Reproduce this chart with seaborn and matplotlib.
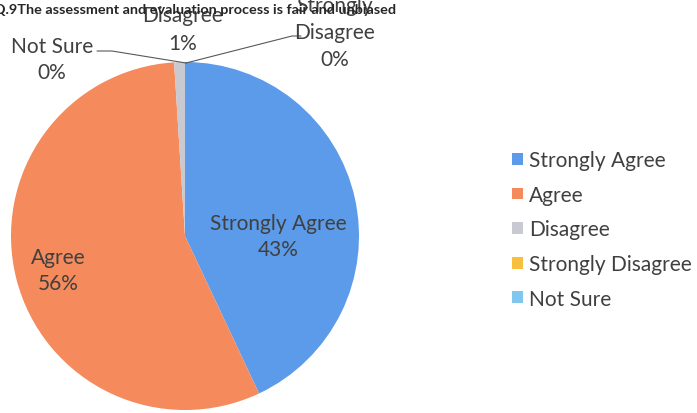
import matplotlib
matplotlib.use("Agg")
import matplotlib.pyplot as plt
import seaborn as sns

categories = ["Strongly Agree", "Agree", "Disagree", "Strongly Disagree", "Not Sure"]
shares = [43, 56, 1, 0, 0]
colors = ["#5B9BEA", "#F58A5C", "#C9C9D2", "#F8BE3E", "#80C6EF"]

sns.set_theme(style="white")
plt.rcParams["font.family"] = ["Lato", "DejaVu Sans"]
txt = "#404040"
fs = 15

fig = plt.figure(figsize=(6.97, 4.14), dpi=100)
cx, cy, r = 185, 237, 174
ax = fig.add_axes([(cx - r) / 697, (414 - cy - r) / 414, 2 * r / 697, 2 * r / 414])
wedges, _ = ax.pie(shares, colors=colors, startangle=90, counterclock=False,
                   radius=1, wedgeprops=dict(linewidth=0))
ax.set_xlim(-1, 1)
ax.set_ylim(-1, 1)
ax.set_aspect("equal")
ax.axis("off")

def px(x, y):
    return (x - cx) / r, (cy - y) / r

def label(x, y, s, ls=1.35):
    ax.text(*px(x, y), s, ha="center", va="center", fontsize=fs, color=txt,
            linespacing=ls, clip_on=False)

# in-slice labels
label(278, 237, f"{categories[0]}\n{shares[0]}%")
label(58, 271, f"{categories[1]}\n{shares[1]}%")

# outside labels
label(183, 30, f"{categories[2]}\n{shares[2]}%", ls=1.55)
label(335, 33, f"Strongly\n{categories[2]}\n{shares[3]}%", ls=1.45)
label(52, 60, f"{categories[4]}\n{shares[4]}%")

# leader lines
top = px(186, 64)
a, b = px(97, 52), px(112, 52)
ax.plot([a[0], b[0], top[0]], [a[1], b[1], top[1]], color="#595959", lw=0.8, clip_on=False)
a, b = px(301, 37), px(292, 37)
ax.plot([a[0], b[0], top[0]], [a[1], b[1], top[1]], color="#595959", lw=0.8, clip_on=False)

fig.text(195 / 697, 1 - 14 / 414, "Q.9The assessment and evaluation process is fair and unbiased",
         ha="center", va="baseline", fontsize=10.4, fontweight="bold", color="#262626")

leg = fig.legend(wedges, categories, loc="upper left", bbox_to_anchor=(504 / 697, 1 - 143 / 414),
                 frameon=False, fontsize=fs, handlelength=0.5, handleheight=0.5,
                 handletextpad=0.3, labelspacing=0.7, borderaxespad=0)
for t in leg.get_texts():
    t.set_color(txt)

fig.savefig("out.png", dpi=100)
